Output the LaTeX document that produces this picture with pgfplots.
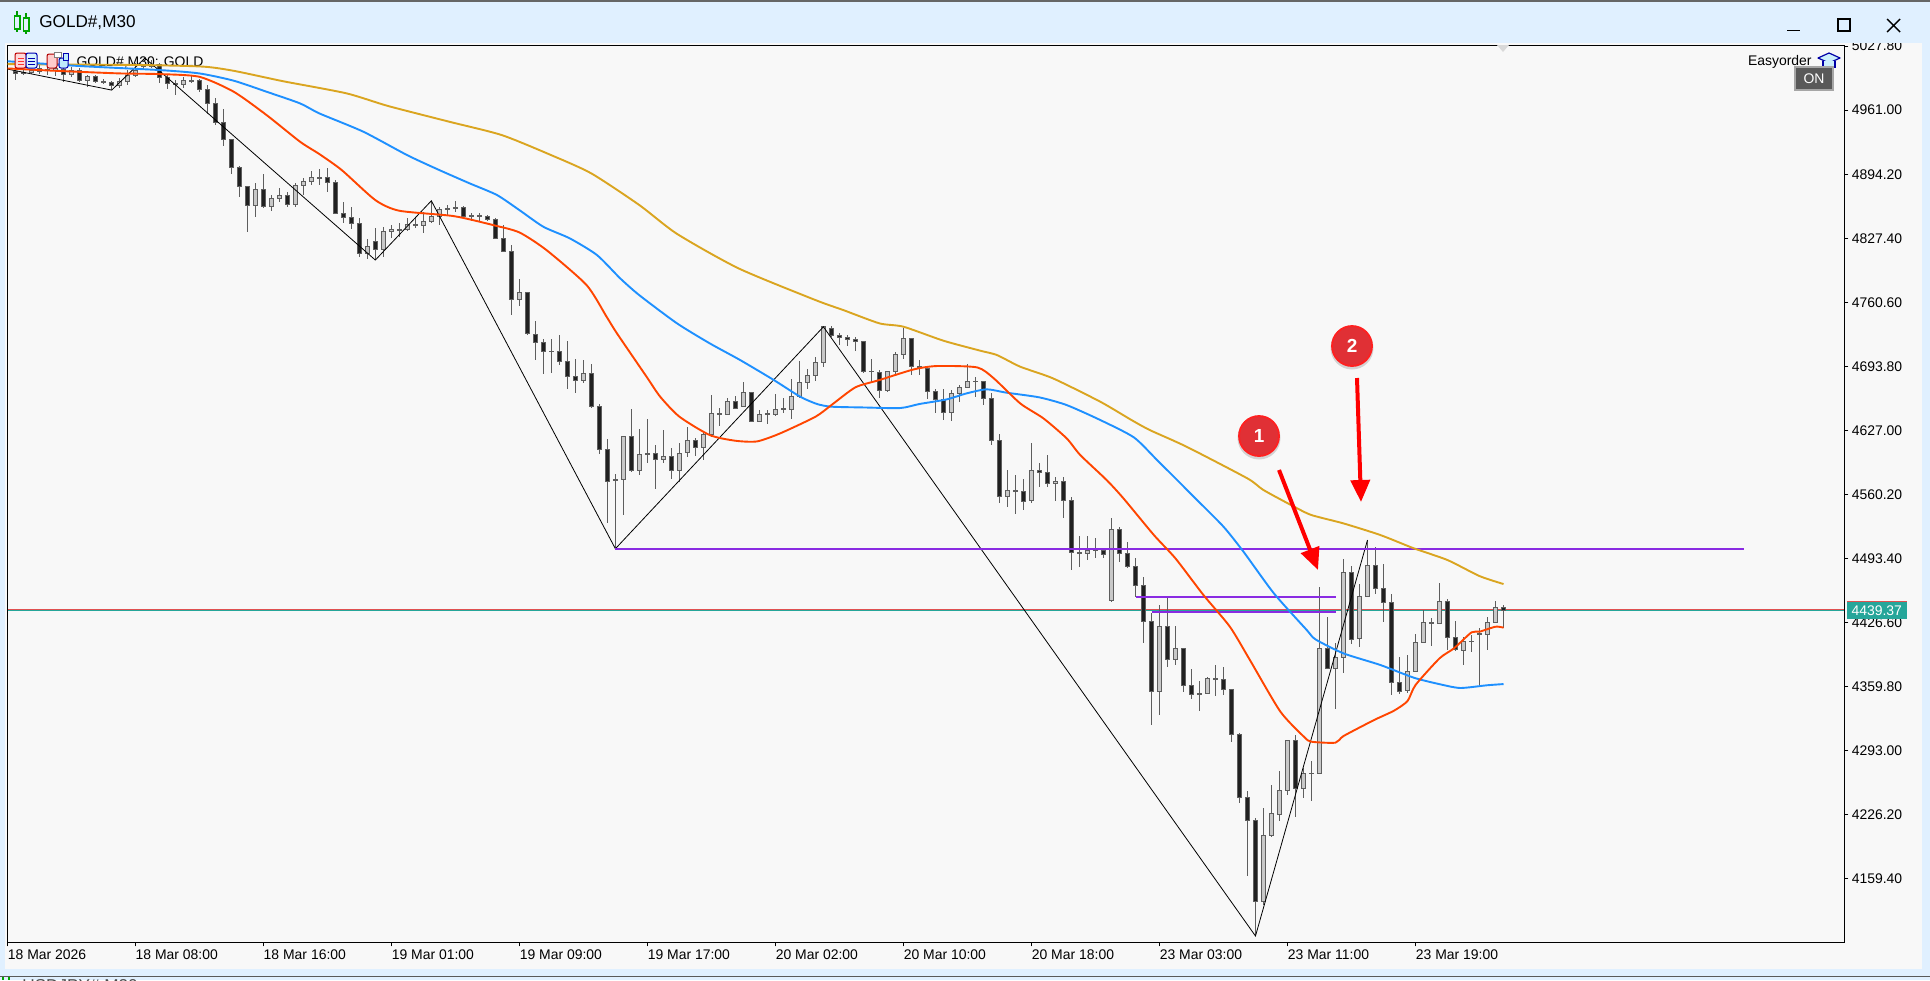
\documentclass[border=0pt]{standalone}
\usepackage{fontspec}
\setmainfont{Liberation Sans}
\usepackage{pgfplots}
\usepackage{pgfplotstable}
\pgfplotsset{compat=1.18}
\usetikzlibrary{arrows.meta}

\definecolor{chrome}{HTML}{E0F0FF}
\definecolor{chartbg}{HTML}{F8F8F8}
\definecolor{wick}{HTML}{5E5E5E}
\definecolor{dn}{HTML}{202020}
\definecolor{upc}{HTML}{C8C8C8}
\definecolor{magold}{HTML}{DAA520}
\definecolor{mablue}{HTML}{1E90FF}
\definecolor{mared}{HTML}{FF4500}
\definecolor{lvl}{HTML}{8A2BE2}
\definecolor{bid}{HTML}{26A69A}
\definecolor{ask}{HTML}{E05050}
\definecolor{badge}{HTML}{E03035}
\definecolor{badgering}{HTML}{FF2020}

\newcommand\tickfont{\fontsize{7}{8}\selectfont}
\tikzset{px/.style={x=0.5bp,y=-0.5bp}}

% bar index, open, high, low, close
\pgfplotstableread{
k o h l c
0 5001.8 5003.5 4992.4 4999.3
1 5000.0 5002.8 4997.6 4999.3
2 5000.0 5004.5 4999.3 5002.8
3 5001.0 5008.0 4999.3 5004.5
4 5003.5 5008.0 4997.6 5002.8
5 5002.8 5007.0 4996.5 5004.5
6 5003.5 5005.2 4990.6 4998.3
7 4998.3 5006.3 4995.8 5002.8
8 5002.1 5004.5 4990.6 4991.7
9 4991.7 4997.6 4985.4 4996.5
10 4995.8 4997.6 4989.6 4990.6
11 4991.0 4993.1 4988.2 4990.3
12 4989.9 4991.7 4981.9 4986.5
13 4986.5 4994.1 4984.4 4991.3
14 4991.0 5002.8 4987.2 4996.9
15 4996.9 5009.7 4995.8 5002.8
16 5008.0 5009.7 5004.5 5007.0
17 5007.0 5013.2 5004.5 5006.3
18 5009.0 5009.7 4989.6 4995.2
19 4995.2 4997.6 4983.0 4988.9
20 4988.9 4992.4 4976.8 4988.2
21 4987.9 4995.2 4983.7 4992.4
22 4991.3 4997.6 4988.9 4992.0
23 4991.7 4993.1 4980.2 4982.6
24 4982.6 4987.2 4956.9 4968.0
25 4968.0 4973.2 4945.5 4948.2
26 4948.2 4961.8 4923.6 4930.5
27 4930.5 4930.5 4894.4 4901.3
28 4901.3 4902.7 4870.7 4881.2
29 4881.2 4881.2 4834.2 4861.7
30 4861.7 4885.4 4849.9 4878.4
31 4878.4 4894.0 4859.3 4861.0
32 4860.7 4872.5 4855.8 4869.0
33 4868.7 4879.4 4865.5 4872.1
34 4872.1 4875.3 4860.3 4862.8
35 4862.4 4884.6 4860.3 4882.5
36 4882.5 4889.9 4872.5 4886.7
37 4886.4 4897.9 4882.9 4890.9
38 4890.4 4899.2 4883.0 4890.0
39 4890.9 4900.6 4875.8 4885.6
40 4885.6 4888.1 4852.3 4853.3
41 4853.3 4864.8 4842.9 4849.2
42 4849.2 4859.6 4837.0 4842.9
43 4842.9 4848.1 4808.1 4811.6
44 4811.6 4826.2 4805.7 4818.9
45 4824.1 4837.7 4804.7 4815.8
46 4815.8 4838.7 4808.1 4834.6
47 4834.6 4841.2 4827.3 4836.6
48 4835.9 4842.9 4829.0 4836.6
49 4836.6 4848.1 4835.3 4841.9
50 4841.9 4848.1 4837.7 4841.2
51 4840.8 4855.1 4832.5 4845.0
52 4844.6 4866.5 4842.9 4850.2
53 4850.5 4859.6 4841.2 4857.5
54 4857.8 4862.0 4851.6 4858.5
55 4858.9 4866.2 4855.1 4859.6
56 4859.6 4861.0 4849.8 4850.5
57 4850.9 4854.0 4845.7 4850.2
58 4851.2 4853.3 4844.6 4850.5
59 4850.2 4851.6 4845.7 4847.1
60 4846.7 4848.1 4827.3 4827.3
61 4827.3 4841.2 4813.4 4814.1
62 4813.4 4820.3 4747.3 4763.7
63 4763.7 4784.9 4757.1 4771.0
64 4771.0 4771.0 4726.5 4728.2
65 4727.2 4741.1 4700.4 4718.8
66 4718.5 4722.3 4685.8 4709.5
67 4709.8 4722.3 4687.2 4709.1
68 4709.1 4726.5 4695.2 4699.0
69 4699.1 4720.3 4670.6 4683.4
70 4683.4 4701.1 4666.4 4679.3
71 4679.3 4700.4 4676.1 4686.5
72 4686.5 4696.3 4650.8 4651.8
73 4651.8 4654.2 4602.5 4607.3
74 4607.3 4618.1 4530.9 4574.0
75 4575.7 4581.6 4503.8 4575.0
76 4576.0 4620.9 4538.9 4620.9
77 4620.9 4649.4 4584.0 4585.4
78 4585.4 4628.5 4580.6 4602.1
79 4602.8 4638.9 4593.4 4602.1
80 4602.8 4611.8 4566.3 4596.9
81 4596.9 4627.5 4592.7 4599.7
82 4600.0 4608.4 4576.4 4585.4
83 4585.4 4613.6 4573.6 4603.1
84 4604.2 4630.6 4599.7 4616.7
85 4616.7 4618.8 4600.7 4609.4
86 4609.4 4625.7 4596.2 4623.0
87 4622.3 4664.0 4620.5 4644.8
88 4644.8 4650.1 4631.6 4644.2
89 4643.5 4660.5 4643.1 4657.4
90 4657.0 4662.9 4649.0 4650.1
91 4652.1 4677.2 4651.1 4666.7
92 4666.4 4666.4 4636.2 4636.5
93 4636.5 4648.3 4636.2 4643.8
94 4644.2 4648.3 4633.7 4643.5
95 4643.5 4665.0 4642.4 4649.0
96 4649.4 4661.2 4644.8 4648.7
97 4649.0 4680.6 4638.9 4662.2
98 4662.2 4699.4 4660.5 4677.2
99 4677.2 4690.7 4670.2 4684.5
100 4684.1 4703.6 4678.9 4698.0
101 4698.0 4735.2 4693.5 4735.2
102 4733.5 4735.9 4724.8 4725.8
103 4726.2 4728.6 4716.1 4724.1
104 4724.1 4726.5 4715.0 4722.0
105 4722.0 4724.1 4710.2 4719.9
106 4719.9 4719.9 4687.2 4688.6
107 4689.0 4701.5 4677.9 4688.3
108 4687.6 4690.0 4660.5 4668.8
109 4668.8 4688.6 4667.4 4688.6
110 4688.6 4708.4 4684.8 4706.3
111 4706.3 4733.4 4701.5 4723.4
112 4723.0 4723.0 4684.8 4693.8
113 4693.8 4700.4 4684.8 4693.1
114 4691.8 4693.5 4659.4 4667.8
115 4667.8 4669.9 4645.5 4659.4
116 4659.4 4669.9 4637.9 4645.9
117 4645.9 4669.2 4637.2 4665.7
118 4665.7 4674.4 4657.0 4671.9
119 4671.9 4695.9 4671.2 4678.2
120 4677.8 4682.3 4662.2 4678.5
121 4678.2 4678.9 4653.5 4660.5
122 4660.5 4666.4 4611.8 4616.7
123 4616.7 4623.3 4551.7 4558.3
124 4558.3 4585.8 4547.5 4564.6
125 4564.6 4580.5 4540.2 4563.9
126 4563.2 4576.4 4544.1 4553.1
127 4554.1 4613.5 4551.7 4585.4
128 4585.4 4592.7 4568.4 4583.3
129 4583.0 4601.0 4568.4 4571.9
130 4571.9 4578.1 4553.4 4573.9
131 4573.9 4578.1 4536.0 4554.1
132 4554.1 4557.3 4481.5 4499.9
133 4499.9 4517.0 4485.0 4498.9
134 4498.9 4517.0 4491.9 4502.0
135 4502.3 4514.6 4493.7 4501.6
136 4502.0 4504.1 4494.4 4497.9
137 4449.6 4535.4 4448.2 4523.9
138 4523.9 4526.7 4490.2 4498.9
139 4498.9 4510.4 4483.3 4485.3
140 4485.3 4493.7 4453.7 4465.5
141 4465.5 4473.9 4405.1 4428.0
142 4428.0 4437.0 4319.6 4355.0
143 4355.0 4445.0 4330.7 4422.8
144 4422.8 4452.7 4380.7 4388.7
145 4388.7 4423.1 4382.5 4399.9
146 4399.9 4399.9 4354.7 4361.3
147 4361.3 4378.3 4347.0 4351.9
148 4352.9 4365.8 4334.9 4352.3
149 4352.6 4370.3 4352.6 4368.6
150 4368.6 4382.5 4350.5 4367.9
151 4367.5 4380.0 4351.2 4357.1
152 4357.1 4357.1 4302.5 4310.2
153 4310.2 4311.2 4238.9 4244.5
154 4244.5 4251.1 4162.8 4220.5
155 4220.5 4222.6 4099.9 4136.1
156 4136.1 4233.0 4132.2 4204.9
157 4204.9 4257.0 4202.8 4227.8
158 4226.8 4271.9 4220.2 4251.8
159 4251.8 4303.9 4246.9 4303.9
160 4303.9 4309.5 4224.3 4253.9
161 4253.9 4274.7 4244.1 4269.5
162 4269.8 4282.4 4241.0 4269.2
163 4269.5 4463.8 4269.5 4399.8
164 4399.8 4432.5 4378.3 4379.0
165 4379.0 4405.0 4336.9 4390.4
166 4390.4 4492.9 4374.4 4479.0
167 4479.0 4485.3 4404.3 4409.5
168 4410.2 4466.9 4401.5 4454.0
169 4454.1 4512.8 4453.7 4486.4
170 4486.4 4505.2 4456.5 4462.4
171 4462.4 4487.8 4427.7 4447.8
172 4447.8 4456.5 4351.2 4364.4
173 4364.4 4390.5 4352.3 4355.0
174 4356.1 4392.9 4353.6 4375.9
175 4375.9 4414.5 4374.8 4406.1
176 4406.1 4439.8 4405.0 4427.0
177 4425.9 4431.1 4402.6 4426.6
178 4425.9 4467.6 4425.9 4448.9
179 4448.9 4450.9 4398.1 4411.3
180 4411.3 4428.4 4397.4 4398.8
181 4397.8 4411.3 4382.5 4407.2
182 4407.5 4413.8 4395.7 4406.8
183 4414.5 4420.7 4361.3 4415.2
184 4414.5 4432.5 4398.5 4427.0
185 4427.0 4449.2 4425.9 4442.6
186 4442.6 4444.7 4420.7 4439.37
}\candles

\pgfplotsset{
  nomarks/.style={draw=none, mark=none, mark size=0pt, mark options={draw=none,fill=none}, forget plot},
  wicks/.style={nomarks,
    error bars/.cd, y dir=both, y explicit, error mark=none,
    error bar style={draw=wick, line width=0.5bp}},
  bodyout/.style={nomarks,
    error bars/.cd, y dir=both, y explicit, error mark=none,
    error bar style={draw=wick, line width=2.5bp}},
  bodyin/.style={nomarks,
    error bars/.cd, y dir=both, y explicit, error mark=none,
    error bar style={draw=#1, line width=1.5bp}},
}

\begin{document}
\begin{tikzpicture}
\begin{scope}[px]
  \path[use as bounding box] (0,0) rectangle (1930,980);
  \fill[chrome] (0,0) rectangle (1930,980);
  \fill[chartbg] (5,43) rectangle (1922,969);
  \fill[gray!70!black] (0,975.5) rectangle (1930,977);
  \draw[green!65!black,line width=0.6bp] (3,977) -- (3,980) (9,977) -- (9,980);
  \node[anchor=west,inner sep=0pt,font=\fontsize{8.6}{10}\selectfont,text=black!70] at (22,987) {USDJPY\#,M30};
\end{scope}

\begin{axis}[
    at={(3.75bp,-471.15bp)}, anchor=south west,
    scale only axis, width=918.4bp, height=448.65bp,
    xmin=-0.975, xmax=228.6, ymin=4093.3, ymax=5028.9,
    axis line style={line width=0.5bp,black},
    tick style={line width=0.5bp,black},
    tick align=outside, major tick length=2bp,
    xtick pos=bottom, ytick pos=right,
    xtick={-0.975,15,31,47,63,79,95,111,127,143,159,175},
    xticklabels={18 Mar 2026,18 Mar 08:00,18 Mar 16:00,19 Mar 01:00,19 Mar 09:00,19 Mar 17:00,20 Mar 02:00,20 Mar 10:00,20 Mar 18:00,23 Mar 03:00,23 Mar 11:00,23 Mar 19:00},
    ytick={5027.8,4961,4894.2,4827.4,4760.6,4693.8,4627,4560.2,4493.4,4426.6,4359.8,4293,4226.2,4159.4},
    yticklabels={5027.80,4961.00,4894.20,4827.40,4760.60,4693.80,4627.00,4560.20,4493.40,4426.60,4359.80,4293.00,4226.20,4159.40},
    xticklabel style={font=\tickfont, anchor=north west, inner xsep=0pt, inner ysep=1.5bp},
    yticklabel style={font=\tickfont, anchor=west, inner xsep=1.5bp, inner ysep=0pt},
  ]
  \node[anchor=west,inner sep=0pt,font=\tickfont] at (axis cs:7.6,5011) {GOLD\#,M30: GOLD};

  % bid and ask
  \addplot[draw=bid, line width=0.5bp, forget plot] coordinates {(-0.975,4439.37) (228.6,4439.37)};
  \addplot[draw=ask, line width=0.5bp, forget plot] coordinates {(-0.975,4440.5) (228.6,4440.5)};

  % candles
  \addplot[wicks] table[x=k, y expr={(\thisrow{h}+\thisrow{l})/2}, y error expr={(\thisrow{h}-\thisrow{l})/2}] {\candles};
  \addplot[bodyout] table[x=k, y expr={(\thisrow{o}+\thisrow{c})/2}, y error expr={abs(\thisrow{o}-\thisrow{c})/2+0.52}] {\candles};
  \addplot[bodyin=upc] table[x expr={\thisrow{c}>\thisrow{o} ? \thisrow{k} : nan}, y expr={(\thisrow{o}+\thisrow{c})/2}, y error expr={max(abs(\thisrow{o}-\thisrow{c})/2-0.52,0)}] {\candles};
  \addplot[bodyin=dn] table[x expr={\thisrow{c}>\thisrow{o} ? nan : \thisrow{k}}, y expr={(\thisrow{o}+\thisrow{c})/2}, y error expr={max(abs(\thisrow{o}-\thisrow{c})/2-0.52,0)}] {\candles};

  % zigzag
  \addplot[black, line width=0.4bp, forget plot] coordinates {(-0.97,5003.8) (12.05,4981.9) (16.2,5015.3) (45,4804.7) (52,4866.5) (75,4503.7) (101,4735.1) (155,4099.9) (169,4512.8)};

  % levels
  \addplot[lvl, line width=0.8bp, forget plot] coordinates {(75,4503.7) (216.1,4503.7)};
  \addplot[lvl, line width=0.8bp, forget plot] coordinates {(140.05,4453.6) (165.05,4453.6)};
  \addplot[lvl, line width=0.8bp, forget plot] coordinates {(142.05,4438) (165.05,4438)};

  % moving averages
  \addplot[magold, line width=0.95bp, smooth, tension=0.4, forget plot] coordinates {(-1,5009) (16,5008) (23.6,5006.3) (27.3,5002) (31.4,4994.8) (33.8,4990.6) (41.4,4978.5) (46.6,4965.3) (54.2,4949) (60.8,4935) (67,4914) (72,4895) (78,4862) (82.7,4832) (90.4,4796) (100,4763) (103.5,4752.5) (108,4738.7) (111,4735.2) (116,4720.6) (120.6,4710.2) (122.7,4705.6) (125.6,4693.5) (129.7,4681.3) (135.6,4657) (139.5,4637.9) (141.8,4627.4) (146.4,4610) (154,4577) (156,4564.9) (160,4546.8) (162,4538.8) (166,4530.1) (170.6,4518) (174.8,4504.1) (179,4491.9) (183,4475.2) (186,4466.9)};
  \addplot[mablue, line width=0.95bp, smooth, tension=0.4, forget plot] coordinates {(-1,5012) (8,5007) (18,5002.8) (23,4999.3) (27.3,4991.7) (31.4,4980.2) (35.6,4968) (38,4957.6) (43.5,4938.5) (49,4914) (53,4898.5) (56.8,4884.6) (60.2,4872.5) (63,4856.8) (66,4839.4) (69.3,4827.3) (72.7,4809.9) (75.6,4785.6) (78,4768) (82.7,4738.7) (86.8,4717.8) (90.6,4700.4) (94.8,4679.6) (98.1,4662.2) (100.2,4654.6) (102,4651.8) (106,4651) (110.6,4650.4) (113,4654.6) (116.4,4659.4) (118.9,4665.7) (121.4,4669.9) (123.9,4666.4) (128,4661.5) (131.4,4653.5) (135.6,4637.9) (139.8,4619.8) (142.7,4596.2) (147.7,4554.5) (151,4526.7) (153.5,4500.6) (157.3,4457.2) (161.4,4419) (162.5,4409.2) (166,4394.6) (170.6,4382.5) (174.8,4369.2) (178.1,4362.3) (180.6,4358.5) (183.9,4361.3) (186,4362.6)};
  \addplot[mared, line width=0.95bp, smooth, tension=0.4, forget plot] coordinates {(-1,5004.5) (4.8,5002.1) (13,4999.3) (18,4998.6) (23,4995.8) (27.3,4980.2) (31.4,4955.9) (35.6,4928) (38,4915.2) (40.8,4898.5) (45,4867.2) (48,4856.1) (54.8,4850.5) (59.8,4841) (63,4833.5) (66.4,4815) (71.4,4778.6) (73.9,4745.6) (75.2,4728.2) (78.9,4683) (80.6,4662.2) (83,4641.4) (86.8,4622.2) (90,4616.3) (92.7,4615.6) (95.6,4624) (100,4641.3) (102,4653.5) (105,4672) (108,4679.6) (112.3,4690.7) (115.2,4694.2) (120.2,4692.8) (122.3,4681.3) (125.6,4655.2) (128.5,4639.6) (131.4,4618.8) (133.1,4601.4) (136.4,4575.3) (138.5,4556.2) (142.3,4518) (145,4493.6) (148.5,4455.4) (151.8,4422.4) (154.3,4387.7) (158.1,4334) (161.1,4307.3) (162,4302.5) (165,4301.5) (166,4308.4) (169.8,4325) (172.3,4334.8) (174,4344.9) (175,4361.6) (178,4389.4) (179.8,4399.8) (182,4416.5) (183,4417.2) (185,4422.4) (186,4421.4)};
\end{axis}

\begin{scope}[px]
  % window chrome over the clipped top of the scale
  \fill[chrome] (0,0) rectangle (1930,43);
  \fill[gray!80!black] (0,0) rectangle (1930,2);
  \node[anchor=west,inner sep=0pt,font=\fontsize{8.6}{10}\selectfont] at (39,22.5) {GOLD\#,M30};
  % title icon
  \draw[green!60!black,line width=0.6bp] (17,11) -- (17,32) (26,13) -- (26,34);
  \draw[green!65!black,line width=0.6bp,fill=chrome] (14.5,16) rectangle (20,29) (23.5,18) rectangle (29,31);
  % window buttons
  \draw[black,line width=0.7bp] (1787,30.5) -- (1800,30.5);
  \draw[black,line width=0.7bp] (1838,19) rectangle (1850,31);
  \draw[black,line width=0.7bp] (1887,19) -- (1900,32) (1900,19) -- (1887,32);

  % chart toolbar
  \draw[red!75!black,line width=0.5bp,fill=red!15,rounded corners=1bp] (15,53) rectangle (26,68);
  \draw[blue!70!black,line width=0.5bp,fill=cyan!15,rounded corners=1bp] (26,53) rectangle (37,68);
  \draw[red!80,line width=0.5bp] (18,58) -- (24,58) (18,61) -- (24,61) (18,64) -- (24,64);
  \draw[blue!70!black,line width=0.5bp] (28,58) -- (35,58) (28,61) -- (35,61) (28,64) -- (35,64);
  \draw[red!70!black,line width=0.5bp,fill=red!20,rounded corners=1bp] (47,54) rectangle (57,68);
  \draw[gray,line width=0.5bp,fill=white] (54,52) rectangle (61,57);
  \draw[blue!70!black,line width=0.5bp,fill=cyan!25,rounded corners=1bp] (59,58) rectangle (68,68);
  \draw[blue!70!black,line width=0.5bp,fill=cyan!25] (63,53) rectangle (68,60);
  \fill[gray!30] (1497,45) -- (1509,45) -- (1503,52) -- cycle;

  % easyorder
  \node[anchor=east,inner sep=0pt,font=\tickfont] at (1812,61.7) {Easyorder};
  \draw[blue!65!black,line width=0.6bp,fill=cyan!20,line join=round] (1818,58) -- (1829,53) -- (1840,58) -- (1829,63) -- cycle;
  \draw[blue!65!black,line width=0.6bp,fill=cyan!20] (1823,61) -- (1823,67) -- (1835,67) -- (1835,61);
  \fill[gray!70] (1794,66) rectangle (1833.7,90.7);
  \fill[black!65] (1796,68) rectangle (1831.7,88.7);
  \node[text=white,inner sep=0pt,font=\tickfont] at (1814,79) {ON};

  % last price
  \fill[bid] (1846.6,601.3) rectangle (1906.8,618.7);
  \fill[ask] (1846.6,601) rectangle (1906.8,602);
  \node[text=white,inner sep=0pt,font=\tickfont] at (1876.7,610.5) {4439.37};

  % callouts
  \draw[red,line width=2bp,-{Triangle[length=11bp,width=9.5bp]}] (1279,470) -- (1318,570);
  \draw[red,line width=2bp,-{Triangle[length=11bp,width=9.5bp]}] (1357,378) -- (1361,502);
  \foreach \cx/\cy/\t in {1259/436/1,1352/346/2}{
    \fill[black,opacity=0.15] (\cx,\cy+2) circle (21.5);
    \draw[fill=badge,draw=badgering,line width=0.9bp] (\cx,\cy) circle (20);
    \node[text=white,inner sep=0pt,font=\fontsize{9.5}{10}\bfseries] at (\cx,\cy) {\t};
  }
\end{scope}
\end{tikzpicture}
\end{document}
